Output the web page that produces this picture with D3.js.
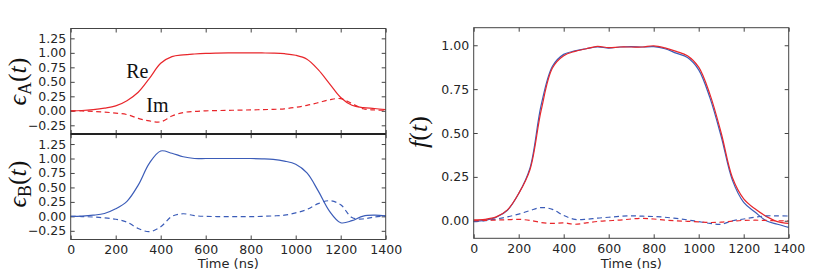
<!DOCTYPE html>
<html><head><meta charset="utf-8">
<script src="https://cdn.jsdelivr.net/npm/d3@7"></script>
<style>body{margin:0;background:#fff}svg{display:block}</style>
</head><body>
<svg id="c" width="830" height="274"></svg>
<script>
// ---------- data ----------
const timeGrid = [0,50,100,150,200,250,300,350,400,450,500,550,600,650,700,750,800,850,900,950,1000,1050,1100,1150,1200,1250,1300,1350,1400];
const reA = [0,0.005,0.02,0.045,0.085,0.175,0.32,0.56,0.82,0.935,0.965,0.98,0.99,0.995,0.998,1.0,1.0,0.998,0.995,0.985,0.958,0.89,0.71,0.47,0.23,0.095,0.055,0.04,0.02];
const imA = [0,-0.003,-0.01,-0.022,-0.04,-0.065,-0.13,-0.175,-0.19,-0.09,-0.03,-0.01,0,0.004,0.008,0.012,0.015,0.02,0.025,0.035,0.06,0.095,0.14,0.19,0.21,0.125,0.035,0.015,0.01];
const reB = [0,0.005,0.02,0.05,0.13,0.26,0.54,0.92,1.13,1.09,1.03,1.0,1.0,1.0,1.0,1.0,1.0,0.995,0.985,0.955,0.9,0.75,0.44,0.09,-0.11,-0.075,0.005,0.02,0.01];
const imB = [0,-0.003,-0.012,-0.025,-0.05,-0.1,-0.21,-0.265,-0.18,0.0,0.045,0.012,0,-0.003,-0.005,-0.005,-0.005,0,0.008,0.02,0.06,0.12,0.22,0.27,0.2,-0.02,-0.045,-0.01,0.005];
const fRedRe  = [0.005,0.008,0.022,0.062,0.155,0.29,0.63,0.87,0.94,0.965,0.98,0.994,0.986,0.99,0.99,0.99,0.997,0.985,0.965,0.94,0.875,0.72,0.5,0.245,0.125,0.068,0.025,-0.005,-0.015];
const fBlueRe = [-0.003,0.002,0.02,0.06,0.155,0.30,0.66,0.88,0.948,0.968,0.98,0.99,0.984,0.99,0.992,0.99,0.992,0.98,0.955,0.93,0.86,0.70,0.48,0.23,0.105,0.05,0.0,-0.02,-0.038];
const fRedIm  = [0,0.002,0.004,0.006,0.008,0.002,-0.01,-0.015,-0.012,-0.02,-0.012,-0.004,0,0.004,0.01,0.014,0.01,0.004,0,-0.003,-0.006,-0.01,-0.008,-0.002,0.002,0.003,0.002,0,0];
const fBlueIm = [-0.005,0,0.01,0.022,0.038,0.058,0.075,0.065,0.03,0.008,0.008,0.015,0.02,0.025,0.028,0.026,0.024,0.02,0.013,0.005,-0.005,-0.015,-0.02,0,0.01,0.02,0.028,0.028,0.027];
const xTicks = [0,200,400,600,800,1000,1200,1400];
const yTicksLeft = [-0.25,0,0.25,0.5,0.75,1.0,1.25];
const yTicksRight = [0,0.25,0.5,0.75,1.0];

const RED = "#e8262b", BLUE = "#3b5cb8";
const svg = d3.select("#c");
svg.append("rect").attr("width",830).attr("height",274).attr("fill","#fff");

const xL = d3.scaleLinear([0,1400],[70.7,385.7]);
const yA = d3.scaleLinear([-0.4,1.42],[134,28.5]);
const yB = d3.scaleLinear([-0.4,1.42],[239.5,134.2]);
const xR = d3.scaleLinear([0,1400],[473.7,788.7]);
const yR = d3.scaleLinear([-0.1,1.1],[238.3,27.7]);

const fmt = d3.format(".2f");
const TICKC = "#444", LABC = "#262626";

function styleAxis(g){
  g.select(".domain").remove();
  g.selectAll(".tick line").attr("stroke",TICKC).attr("stroke-width",1);
  g.selectAll(".tick text").attr("fill",LABC).attr("font-family","DejaVu Sans").attr("font-size","12.5px");
}

function panel(x,y,yTicks,showX){
  const [x0,x1]=x.range(), [y1,y0]=y.range();
  svg.append("g").attr("transform",`translate(${x0},0)`)
    .call(d3.axisLeft(y).tickValues(yTicks).tickFormat(fmt).tickSizeInner(-4).tickSizeOuter(0).tickPadding(4.5))
    .call(styleAxis);
  svg.append("g").attr("transform",`translate(${x1},0)`)
    .call(d3.axisRight(y).tickValues(yTicks).tickFormat("").tickSizeInner(-4).tickSizeOuter(0))
    .call(styleAxis);
  svg.append("g").attr("transform",`translate(0,${y0})`)
    .call(d3.axisTop(x).tickValues(xTicks).tickFormat("").tickSizeInner(-4).tickSizeOuter(0))
    .call(styleAxis);
  svg.append("g").attr("transform",`translate(0,${y1})`)
    .call(d3.axisBottom(x).tickValues(xTicks).tickFormat(showX?d3.format("d"):"").tickSizeInner(-4).tickSizeOuter(0).tickPadding(6))
    .call(styleAxis);
}

function plotLine(x,y,vals,color,dashed){
  const line = d3.line().x((d,i)=>x(timeGrid[i])).y(d=>y(d)).curve(d3.curveCatmullRom.alpha(0.5));
  svg.append("path").datum(vals).attr("d",line).attr("fill","none")
    .attr("stroke",color).attr("stroke-width",1.2)
    .attr("stroke-dasharray",dashed?"5,3.5":null);
}

panel(xL,yA,yTicksLeft,false);
panel(xL,yB,yTicksLeft,true);
panel(xR,yR,yTicksRight,true);

plotLine(xL,yA,reA,RED,false);
plotLine(xL,yA,imA,RED,true);
plotLine(xL,yB,reB,BLUE,false);
plotLine(xL,yB,imB,BLUE,true);
plotLine(xR,yR,fBlueRe,BLUE,false);
plotLine(xR,yR,fRedRe,RED,false);
plotLine(xR,yR,fBlueIm,BLUE,true);
plotLine(xR,yR,fRedIm,RED,true);

function frame(x,y){
  const [x0,x1]=x.range(), [y1,y0]=y.range();
  svg.append("rect").attr("x",x0).attr("y",y0).attr("width",x1-x0).attr("height",y1-y0)
    .attr("fill","none").attr("stroke",TICKC).attr("stroke-width",1);
}
frame(xL,yA); frame(xL,yB); frame(xR,yR);
svg.append("line").attr("x1",xL.range()[0]).attr("x2",xL.range()[1]).attr("y1",134.1).attr("y2",134.1)
  .attr("stroke","#222").attr("stroke-width",2);

[xL,xR].forEach(x=>{
  svg.append("text").attr("x",(x.range()[0]+x.range()[1])/2).attr("y",268)
    .attr("text-anchor","middle").attr("font-family","DejaVu Sans").attr("font-size","13px").attr("fill",LABC)
    .text("Time (ns)");
});

function ylabel(cx,cy,sub){
  const t = svg.append("text").attr("transform",`translate(${cx},${cy}) rotate(-90)`)
    .attr("text-anchor","middle").attr("font-family","Liberation Serif, DejaVu Serif, serif")
    .attr("font-size","26px").attr("fill","#111").attr("dy","0.32em");
  if(sub){
    t.append("tspan").attr("font-style","italic").text("ϵ");
    t.append("tspan").attr("font-size","18px").attr("dy","5").text(sub);
    t.append("tspan").attr("dy","-5").text("(");
  } else {
    t.append("tspan").attr("font-style","italic").text("f");
    t.append("tspan").text("(");
  }
  t.append("tspan").attr("font-style","italic").text("t");
  t.append("tspan").text(")");
}
ylabel(18,81.5,"A");
ylabel(18,184,"B");
ylabel(419,132,null);

svg.append("text").attr("x",xL(247)).attr("y",yA(0.565)).attr("font-family","Liberation Serif, serif")
  .attr("font-size","20px").attr("fill","#111").text("Re");
svg.append("text").attr("x",xL(336)).attr("y",yA(-0.022)).attr("font-family","Liberation Serif, serif")
  .attr("font-size","20px").attr("fill","#111").text("Im");
</script>
</body></html>
